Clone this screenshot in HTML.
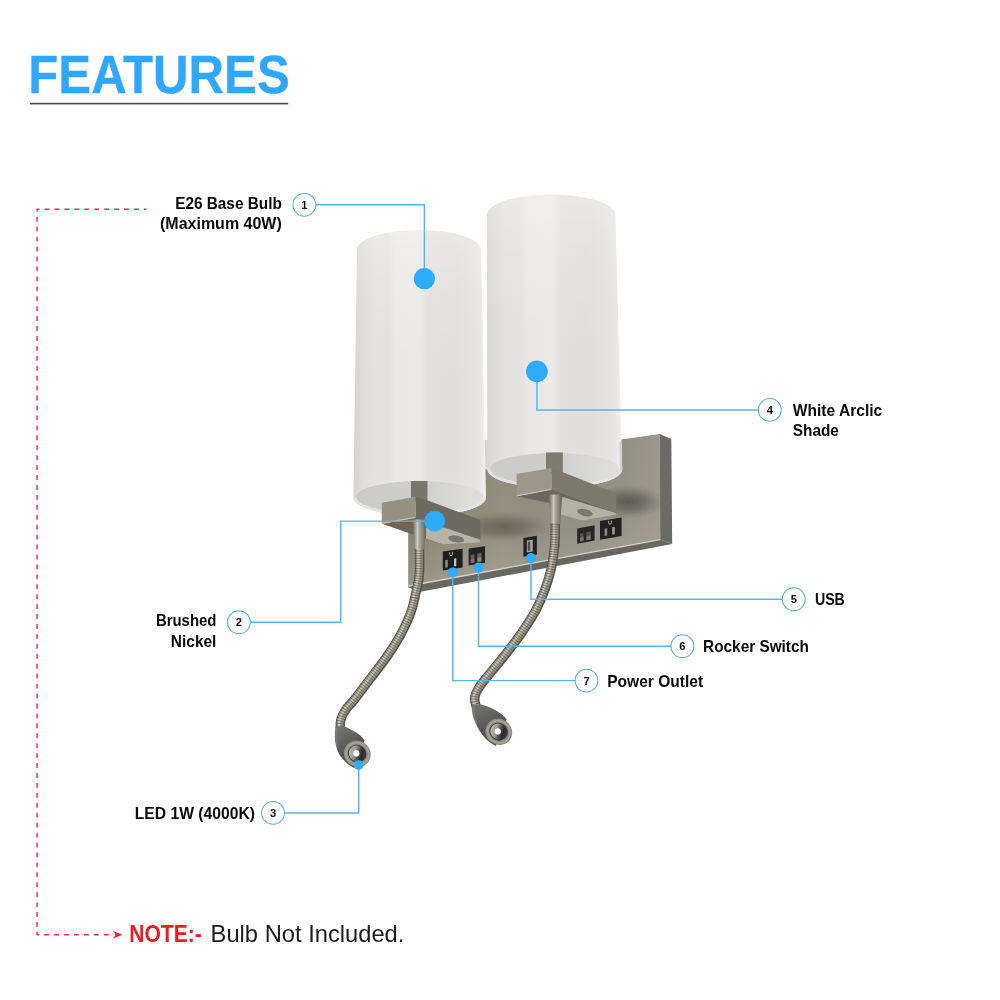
<!DOCTYPE html>
<html>
<head>
<meta charset="utf-8">
<title>Features</title>
<style>
html,body{margin:0;padding:0;background:#fff;}
body{width:1000px;height:1000px;overflow:hidden;position:relative;font-family:"Liberation Sans",sans-serif;}
svg{position:absolute;left:0;top:0;display:block;will-change:transform;}
text{font-family:"Liberation Sans",sans-serif;}
.lbl{font-weight:700;font-size:15.9px;fill:#0a0a0a;}
.num{font-weight:700;font-size:11.2px;fill:#0a0a0a;text-anchor:middle;}
.ln{fill:none;stroke:#56b3f4;stroke-width:1.45;}
.ring{fill:#fff;stroke:#52adeb;stroke-width:1.05;}
.dot{fill:#2eacfa;}
</style>
</head>
<body>
<svg width="1000" height="1000" viewBox="0 0 1000 1000">
<defs>
<linearGradient id="shadeL" x1="0" y1="0" x2="1" y2="0">
  <stop offset="0" stop-color="#d3d2d0"/>
  <stop offset="0.03" stop-color="#d8d7d5"/>
  <stop offset="0.08" stop-color="#dddcda"/>
  <stop offset="0.15" stop-color="#e2e1df"/>
  <stop offset="0.26" stop-color="#e3e2e0"/>
  <stop offset="0.31" stop-color="#e9e8e6"/>
  <stop offset="0.5" stop-color="#eae9e7"/>
  <stop offset="0.56" stop-color="#e1e0de"/>
  <stop offset="0.75" stop-color="#e0dfdd"/>
  <stop offset="0.9" stop-color="#e3e2e0"/>
  <stop offset="0.96" stop-color="#e8e7e5"/>
  <stop offset="1" stop-color="#f3f2f0"/>
</linearGradient>
<linearGradient id="shadeTop" x1="0" y1="0" x2="0" y2="1">
  <stop offset="0" stop-color="#ffffff" stop-opacity="0.32"/>
  <stop offset="0.05" stop-color="#ffffff" stop-opacity="0.24"/>
  <stop offset="0.2" stop-color="#ffffff" stop-opacity="0.12"/>
  <stop offset="0.42" stop-color="#ffffff" stop-opacity="0.02"/>
  <stop offset="0.8" stop-color="#ffffff" stop-opacity="0"/>
  <stop offset="1" stop-color="#ffffff" stop-opacity="0.06"/>
</linearGradient>
<linearGradient id="innerL" x1="0" y1="0" x2="1" y2="0">
  <stop offset="0" stop-color="#cbcbc9"/>
  <stop offset="0.4" stop-color="#cdcdcb"/>
  <stop offset="0.6" stop-color="#d1d1cf"/>
  <stop offset="0.8" stop-color="#d9d9d7"/>
  <stop offset="1" stop-color="#e0e0de"/>
</linearGradient>
<linearGradient id="plate" x1="0" y1="0" x2="1" y2="0">
  <stop offset="0" stop-color="#868372"/>
  <stop offset="0.12" stop-color="#8c8978"/>
  <stop offset="0.38" stop-color="#959282"/>
  <stop offset="0.5" stop-color="#939083"/>
  <stop offset="0.7" stop-color="#949185"/>
  <stop offset="0.88" stop-color="#9a978b"/>
  <stop offset="1" stop-color="#a29f92"/>
</linearGradient>
<linearGradient id="plateV" x1="0" y1="0" x2="0" y2="1">
  <stop offset="0" stop-color="#55534a" stop-opacity="0.1"/>
  <stop offset="0.55" stop-color="#55534a" stop-opacity="0.04"/>
  <stop offset="0.8" stop-color="#ffffff" stop-opacity="0.06"/>
  <stop offset="1" stop-color="#ffffff" stop-opacity="0.14"/>
</linearGradient>
<radialGradient id="shadow" cx="0.5" cy="0.5" r="0.5">
  <stop offset="0" stop-color="#504d44" stop-opacity="0.8"/>
  <stop offset="0.45" stop-color="#545148" stop-opacity="0.55"/>
  <stop offset="0.8" stop-color="#5a574e" stop-opacity="0.18"/>
  <stop offset="1" stop-color="#5a574e" stop-opacity="0"/>
</radialGradient>
<radialGradient id="refl" cx="0.5" cy="0.5" r="0.5">
  <stop offset="0" stop-color="#d4d1c6" stop-opacity="0.9"/>
  <stop offset="0.6" stop-color="#c6c3b7" stop-opacity="0.55"/>
  <stop offset="1" stop-color="#bab7aa" stop-opacity="0"/>
</radialGradient>
<linearGradient id="collar" x1="0" y1="0" x2="1" y2="0">
  <stop offset="0" stop-color="#6e6a5f"/>
  <stop offset="0.14" stop-color="#8a8679"/>
  <stop offset="0.36" stop-color="#cdc9bb"/>
  <stop offset="0.52" stop-color="#a5a193"/>
  <stop offset="0.8" stop-color="#7f7b6f"/>
  <stop offset="1" stop-color="#5f5b51"/>
</linearGradient>
<linearGradient id="lens" x1="0" y1="0.6" x2="1" y2="0.3">
  <stop offset="0" stop-color="#b4b4b2"/>
  <stop offset="0.3" stop-color="#a0a09e"/>
  <stop offset="0.55" stop-color="#555557"/>
  <stop offset="0.75" stop-color="#2c2c2e"/>
  <stop offset="1" stop-color="#3a3a3c"/>
</linearGradient>
<radialGradient id="spot" cx="0.5" cy="0.5" r="0.5">
  <stop offset="0" stop-color="#ffffff"/>
  <stop offset="0.7" stop-color="#ffffff"/>
  <stop offset="1" stop-color="#ffffff" stop-opacity="0"/>
</radialGradient>
<linearGradient id="headBody" x1="0.2" y1="0" x2="0.7" y2="1">
  <stop offset="0" stop-color="#747572"/>
  <stop offset="0.45" stop-color="#5b5c59"/>
  <stop offset="1" stop-color="#434441"/>
</linearGradient>
<path id="nkL" d="M421.0 519.0 C420.8 523.8 419.8 538.8 419.5 548.0 C419.2 557.2 419.9 567.0 419.4 574.0 C418.9 581.0 417.9 583.7 416.5 590.0 C415.1 596.3 413.6 604.7 411.0 612.0 C408.4 619.3 404.9 626.7 401.0 634.0 C397.1 641.3 392.3 648.7 387.3 656.0 C382.3 663.3 376.4 670.7 370.8 678.0 C365.2 685.3 358.2 694.7 354.0 700.0 C349.8 705.3 347.7 706.7 345.5 710.0 C343.3 713.3 341.7 717.0 340.8 720.0 C339.9 723.0 340.4 726.7 340.3 728.0"/>
<path id="nkL2" d="M419.5 548.0 C419.5 552.3 419.9 567.0 419.4 574.0 C418.9 581.0 417.9 583.7 416.5 590.0 C415.1 596.3 413.6 604.7 411.0 612.0 C408.4 619.3 404.9 626.7 401.0 634.0 C397.1 641.3 392.3 648.7 387.3 656.0 C382.3 663.3 376.4 670.7 370.8 678.0 C365.2 685.3 358.2 694.7 354.0 700.0 C349.8 705.3 347.7 706.7 345.5 710.0 C343.3 713.3 341.7 717.0 340.8 720.0 C339.9 723.0 340.4 726.7 340.3 728.0"/>
<path id="nkR" d="M555.4 494.0 C555.4 499.0 555.5 515.3 555.4 524.0 C555.3 532.7 555.4 538.7 554.7 546.0 C554.0 553.3 553.0 560.7 551.4 568.0 C549.8 575.3 547.5 582.7 544.8 590.0 C542.0 597.3 538.9 604.7 534.9 612.0 C530.9 619.3 525.8 626.8 520.8 634.0 C515.8 641.2 509.7 649.0 505.0 655.0 C500.3 661.0 496.2 665.8 492.8 670.0 C489.4 674.2 486.7 677.3 484.6 680.0 C482.5 682.7 481.4 683.8 480.0 686.0 C478.6 688.2 476.9 690.7 476.0 693.0 C475.1 695.3 474.6 697.8 474.6 700.0 C474.7 702.2 476.0 705.4 476.3 706.5"/>
<path id="nkR2" d="M555.4 524.0 C555.3 527.7 555.4 538.7 554.7 546.0 C554.0 553.3 553.0 560.7 551.4 568.0 C549.8 575.3 547.5 582.7 544.8 590.0 C542.0 597.3 538.9 604.7 534.9 612.0 C530.9 619.3 525.8 626.8 520.8 634.0 C515.8 641.2 509.7 649.0 505.0 655.0 C500.3 661.0 496.2 665.8 492.8 670.0 C489.4 674.2 486.7 677.3 484.6 680.0 C482.5 682.7 481.4 683.8 480.0 686.0 C478.6 688.2 476.9 690.7 476.0 693.0 C475.1 695.3 474.6 697.8 474.6 700.0 C474.7 702.2 476.0 705.4 476.3 706.5"/>
<g id="headFace">
  <ellipse cx="357.3" cy="753.8" rx="13.7" ry="12.9" fill="#8f8d7e" transform="rotate(35 357.3 753.8)"/>
  <ellipse cx="357.3" cy="753.8" rx="11.6" ry="10.9" fill="none" stroke="#a6a495" stroke-width="1.6" transform="rotate(35 357.3 753.8)"/>
  <ellipse cx="357.2" cy="753.7" rx="9.4" ry="8.8" fill="#3b3b39" transform="rotate(35 357.2 753.7)"/>
  <ellipse cx="357.1" cy="753.6" rx="8.4" ry="7.9" fill="url(#lens)" transform="rotate(35 357.1 753.6)"/>
  <circle cx="356.3" cy="753.4" r="3.7" fill="url(#spot)"/>
</g>

</defs>

<!-- ===== title ===== -->
<text x="28.3" y="92.5" font-size="54.2" font-weight="700" fill="#30a7fa" stroke="#30a7fa" stroke-width="0.3" textLength="261.4" lengthAdjust="spacingAndGlyphs">FEATURES</text>
<rect x="30" y="102.8" width="258.2" height="1.6" fill="#4a4a4a"/>

<!-- ===== red dashed note line ===== -->
<path d="M146.4 209.3 H37.1 V934.8 H110" fill="none" stroke="#e8304c" stroke-width="1.45" stroke-dasharray="4.9 5.033" stroke-dashoffset="2.41"/>
<path d="M112.8 931.1 L122.5 934.8 L112.8 938.5 L115.6 934.8 Z" fill="#ea2436"/>

<!-- ===== LAMP ===== -->
<g id="lamp">
<!-- backplate -->
<polygon points="408.2,470 659.8,434 660.2,539.5 408.2,586.1" fill="url(#plate)"/>
<polygon points="408.2,470 659.8,434 660.2,539.5 408.2,586.1" fill="url(#plateV)"/>
<!-- shadow right of right shade -->
<ellipse cx="628" cy="502" rx="38" ry="17" fill="url(#shadow)"/>
<ellipse cx="503" cy="527" rx="48" ry="15" fill="url(#shadow)" opacity="0.8"/>
<!-- right side face -->
<polygon points="659.8,434 671.3,438.9 672.2,543.9 660.2,539.5" fill="#6b6b68"/>
<!-- bottom face -->
<polygon points="408.2,586.1 660.2,539.5 672.2,543.9 420.8,591.8 408.2,587.6" fill="#676764"/>
<!-- bevel highlight -->
<path d="M408.4 586 L660.2 539.6" stroke="#d6d3c6" stroke-width="1.4" fill="none"/>
<circle cx="473" cy="578.3" r="0.9" fill="#77746a"/>
<circle cx="604" cy="553.6" r="0.9" fill="#77746a"/>

<!-- right shade -->
<g>
<path d="M487 215 A64.2 20.5 0 0 1 615.4 215 L622.2 469.5 A67.4 18.5 0 0 1 487.4 469.5 L484 469 L484 440 L487.3 440 Z" fill="url(#shadeL)"/>
<path d="M487 215 A64.2 20.5 0 0 1 615.4 215 L622.2 469.5 A67.4 18.5 0 0 1 487.4 469.5 Z" fill="url(#shadeTop)"/>
<path d="M487.4 469.5 A67.4 18.5 0 0 0 622.2 469.5 L622.2 465 A67.4 18.5 0 0 1 487.4 465 Z" fill="#e3e3e3"/>
<polygon points="619.4,441.5 621.5,441.2 622.2,469.5 620,472" fill="#d3d1ce"/>
<path d="M490.2 468.6 A64.6 15.6 0 0 1 619.4 468.6 A64.6 16.6 0 0 1 490.2 468.6 Z" fill="url(#innerL)"/>
</g>
<!-- left shade -->
<g>
<path d="M357 250 A62 20 0 0 1 481 250 L486 497.5 A66.3 18.5 0 0 1 353.4 497.5 Z" fill="url(#shadeL)"/>
<path d="M357 250 A62 20 0 0 1 481 250 L486 497.5 A66.3 18.5 0 0 1 353.4 497.5 Z" fill="url(#shadeTop)"/>
<path d="M353.4 497.5 A66.3 18.5 0 0 0 486 497.5 L486 493 A66.3 18.5 0 0 1 353.4 493 Z" fill="#e3e3e3"/>
<path d="M356.2 496.6 A63.5 15.6 0 0 1 483.2 496.6 A63.5 16.6 0 0 1 356.2 496.6 Z" fill="url(#innerL)"/>
</g>

<!-- left bracket -->
<rect x="411" y="481" width="16.5" height="21" fill="#78756a"/>
<polygon points="381.75,523.75 415.5,517.75 480,539.5 480,542.5 443,544.5 408,532.75" fill="#6a675d"/>
<polygon points="426,527.5 444,527.5 480,539.5 480,542.5 443,544.5 426,538.5" fill="#b6b4a6"/>
<ellipse cx="456.2" cy="539" rx="8" ry="3.4" fill="#6e6d65" opacity="0.85" transform="rotate(10 456.2 539)"/>
<polygon points="415.5,497 427.5,500.5 480.4,520 480.4,539.5 415.5,517.75" fill="#6d6a60"/>
<polygon points="381.75,502.75 415.5,496.75 415.5,517.75 381.75,523.75" fill="#959284"/>
<path d="M381.75 523.4 L415.5 517.4" stroke="#d0cdc0" stroke-width="1"/>
<!-- right bracket -->
<rect x="546" y="452.4" width="16.8" height="21" fill="#7e7b6f"/>
<polygon points="516.6,496.2 551.4,489.6 616.2,513 616.2,514.8 582,520.8 562.8,514.8 548.4,502.8" fill="#6a675d"/>
<polygon points="561,496.5 616.2,513 616.2,514.8 582,520.8 561,514.4" fill="#b3b1a3"/>
<ellipse cx="585" cy="512.6" rx="8" ry="3.4" fill="#6e6d65" opacity="0.85" transform="rotate(14 585 512.6)"/>
<polygon points="551.4,468 562.8,472.2 616.2,493.2 616.2,513 551.4,489.6" fill="#7b786c"/>
<polygon points="516.6,474 551.4,468 551.4,489.6 516.6,496.2" fill="#9b988b"/>
<path d="M516.6 495.9 L551.4 489.3" stroke="#d0cdc0" stroke-width="1"/>

<!-- outlets -->
<g>
<polygon points="442.8,551.6 462.6,548.8 462.6,567.6 442.8,570.6" fill="#1e1e1e"/>
<polygon points="445.2,560.2 447.8,559.8 447.8,567.4 445.2,567.8" fill="#8a8a86"/>
<polygon points="454,558.6 456.3,558.2 456.3,566 454,566.4" fill="#c4c4c0"/>
<path d="M449.7 552.2 v2 a1.4 1.4 0 0 0 2.8 0 v-2.4" stroke="#bdbdbd" stroke-width="0.9" fill="none"/>
<polygon points="468.6,548.6 485,546.2 485,562.8 468.6,565.6" fill="#242424"/>
<polygon points="470.8,555 474.4,554.5 474.4,562.4 470.8,562.9" fill="#5f5d59"/>
<polygon points="470.8,559.2 474.4,558.7 474.4,562.4 470.8,562.9" fill="#8b6f6a"/>
<polygon points="477.4,553.4 481.4,552.8 481.4,561.2 477.4,561.8" fill="#66645f"/>
<polygon points="477.4,557.8 481.4,557.2 481.4,561.2 477.4,561.8" fill="#8f8d88"/>
<polygon points="523.4,538 536.9,535.8 536.9,554.4 523.4,556.8" fill="#222"/>
<polygon points="526.8,540.6 532.8,539.7 532.8,551.6 526.8,552.5" fill="#a5a4a0"/>
<polygon points="527.8,542 530.2,541.6 530.2,550.4 527.8,550.8" fill="#4c4b48"/>
<polygon points="577.2,528.6 594.6,525.2 594.6,540.4 577.2,543.8" fill="#262626"/>
<polygon points="580,533.4 583.6,532.7 583.6,540.8 580,541.5" fill="#4f4e4b"/>
<polygon points="580,537.6 583.6,536.9 583.6,540.8 580,541.5" fill="#74736f"/>
<polygon points="586.4,532.2 590.6,531.4 590.6,539.4 586.4,540.2" fill="#555450"/>
<polygon points="586.4,536.4 590.6,535.6 590.6,539.4 586.4,540.2" fill="#7a7975"/>
<polygon points="600,521 621.6,517.4 621.6,536 600,539.8" fill="#212121"/>
<polygon points="604.6,528.6 607.2,528.2 607.2,535.6 604.6,536" fill="#8a8882"/>
<polygon points="612.2,527.2 614.8,526.8 614.8,534.2 612.2,534.6" fill="#a19f97"/>
<path d="M608.6 520.8 v2 a1.4 1.4 0 0 0 2.8 0 v-2.4" stroke="#bdbdbd" stroke-width="0.9" fill="none"/>
</g>

<!-- goosenecks -->
<g fill="none" stroke-linecap="butt">
<use href="#nkL2" stroke="#5d594f" stroke-width="9.4"/>
<use href="#nkL2" stroke="#9c988a" stroke-width="7" transform="translate(-0.3,-0.2)"/>
<use href="#nkL2" stroke="#e4e0d2" stroke-width="2.4" opacity="0.7" transform="translate(-1.2,-0.6)"/>
<use href="#nkL2" stroke="#3c382f" stroke-width="9.4" stroke-dasharray="1.0 1.5" opacity="0.5"/>
<polygon points="412.3,519.5 426.3,519.5 424.3,549 414.9,549" fill="url(#collar)" stroke="none"/>
<use href="#nkR2" stroke="#5d594f" stroke-width="9.4"/>
<use href="#nkR2" stroke="#9c988a" stroke-width="7" transform="translate(-0.3,-0.2)"/>
<use href="#nkR2" stroke="#e4e0d2" stroke-width="2.4" opacity="0.7" transform="translate(-1.2,-0.6)"/>
<use href="#nkR2" stroke="#3c382f" stroke-width="9.4" stroke-dasharray="1.0 1.5" opacity="0.5"/>
<polygon points="548.5,494.5 562.3,494.5 560.3,523.5 550.9,523.5" fill="url(#collar)" stroke="none"/>
</g>
<!-- lamp heads -->
<path d="M335.4,727 C334.6,733 334.6,739 335.6,744 C337,751 340,756.5 344.2,760.5 C347,763.5 350,765.8 354.5,768 L357.6,754 L364.8,740.8 C362,736.6 358.5,733.8 354.5,731.6 C351,729.6 347.5,727.6 344.6,726.2 Z" fill="url(#headBody)"/>
<path d="M337,728.5 C335.8,735 336,741 337.4,746" stroke="#858683" stroke-width="1.8" fill="none" opacity="0.6"/>
<use href="#headFace"/>
<path d="M471.8,705.4 C471.4,711 472.8,717.5 475.6,723 C478.2,729 481.5,734.5 485.7,738.5 C488.5,741.5 491.5,743.8 496,746 L499.1,732 L506.8,719.6 C504,716 501,713.6 498,711.8 C494,709.2 488,706 481.6,704.5 Z" fill="url(#headBody)"/>
<path d="M473.4,707 C473,712.5 474.2,718 476.6,723" stroke="#858683" stroke-width="1.8" fill="none" opacity="0.6"/>
<use href="#headFace" transform="translate(141.5,-22)"/>

</g>

<!-- ===== callout lines ===== -->
<path class="ln" d="M316 204.8 H424.4 V279"/>
<path class="ln" d="M250.5 622.3 H340.7 V521.1 H434"/>
<path class="ln" d="M284.6 812.9 H358.7 V765"/>
<path class="ln" d="M537 372 V409.9 H758.2"/>
<path class="ln" d="M531 558 V599.2 H782.2"/>
<path class="ln" d="M478.5 568 V646.2 H670.8"/>
<path class="ln" d="M452.8 572 V680.6 H574.9"/>

<!-- dots -->
<circle class="dot" cx="424.4" cy="278.7" r="10.6"/>
<circle class="dot" cx="434.7" cy="521.1" r="10.4"/>
<circle class="dot" cx="358.5" cy="765" r="4.8"/>
<circle class="dot" cx="536.9" cy="371.4" r="10.8"/>
<circle class="dot" cx="531" cy="558" r="5"/>
<circle class="dot" cx="478.5" cy="567.6" r="5"/>
<circle class="dot" cx="452.8" cy="572.4" r="5"/>

<!-- numbered rings -->
<circle class="ring" cx="304.4" cy="204.8" r="11.4"/>
<circle class="ring" cx="238.9" cy="622.3" r="11.4"/>
<circle class="ring" cx="273.0" cy="812.9" r="11.4"/>
<circle class="ring" cx="769.8" cy="409.9" r="11.4"/>
<circle class="ring" cx="793.8" cy="599.2" r="11.4"/>
<circle class="ring" cx="682.4" cy="646.2" r="11.4"/>
<circle class="ring" cx="586.5" cy="680.6" r="11.4"/>
<text class="num" x="304.4" y="208.8">1</text>
<text class="num" x="238.9" y="626.3">2</text>
<text class="num" x="273.0" y="816.9">3</text>
<text class="num" x="769.8" y="413.9">4</text>
<text class="num" x="793.8" y="603.2">5</text>
<text class="num" x="682.4" y="650.2">6</text>
<text class="num" x="586.5" y="684.6">7</text>

<!-- labels -->
<text class="lbl" x="175.2" y="209.0" textLength="106.6" lengthAdjust="spacingAndGlyphs">E26 Base Bulb</text>
<text class="lbl" x="160.0" y="228.5" textLength="121.8" lengthAdjust="spacingAndGlyphs">(Maximum 40W)</text>
<text class="lbl" x="155.9" y="625.7" textLength="60.6" lengthAdjust="spacingAndGlyphs">Brushed</text>
<text class="lbl" x="170.8" y="646.8" textLength="45.6" lengthAdjust="spacingAndGlyphs">Nickel</text>
<text class="lbl" x="134.8" y="818.8" textLength="120.2" lengthAdjust="spacingAndGlyphs">LED 1W (4000K)</text>
<text class="lbl" x="792.8" y="416.1" textLength="89.4" lengthAdjust="spacingAndGlyphs">White Arclic</text>
<text class="lbl" x="792.8" y="436.4" textLength="46.0" lengthAdjust="spacingAndGlyphs">Shade</text>
<text class="lbl" x="814.9" y="605.4" textLength="30.0" lengthAdjust="spacingAndGlyphs">USB</text>
<text class="lbl" x="703.1" y="652.0" textLength="105.8" lengthAdjust="spacingAndGlyphs">Rocker Switch</text>
<text class="lbl" x="607.2" y="686.6" textLength="96.0" lengthAdjust="spacingAndGlyphs">Power Outlet</text>

<!-- note -->
<text x="129.2" y="941.6" font-size="23.2" font-weight="700" fill="#ec1c24" textLength="72.6" lengthAdjust="spacingAndGlyphs">NOTE:-</text>
<text x="210.6" y="941.6" font-size="23.4" fill="#1c1c1c" textLength="193.8" lengthAdjust="spacingAndGlyphs">Bulb Not Included.</text>
</svg>
</body>
</html>
